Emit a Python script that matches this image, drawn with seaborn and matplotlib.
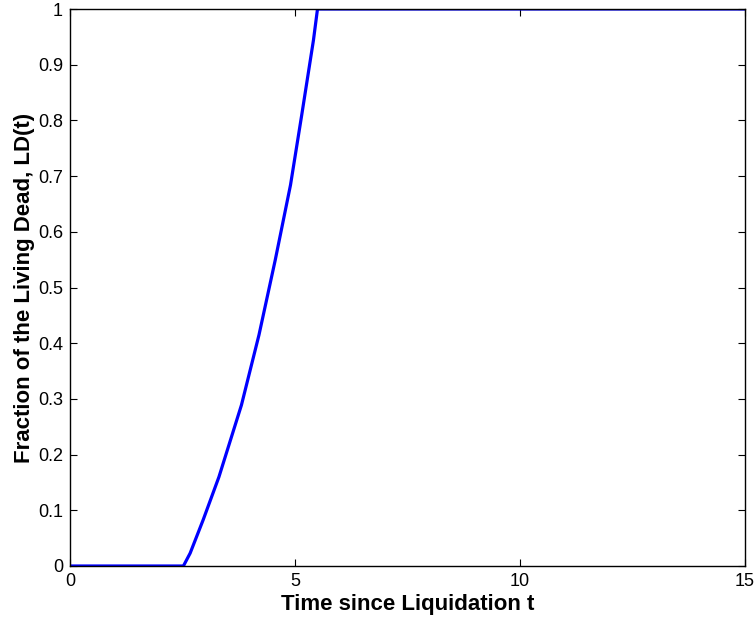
import numpy as np
import pandas as pd
import seaborn as sns
import matplotlib
matplotlib.use("Agg")
import matplotlib.pyplot as plt

# Values
time_t = [0.0, 2.52, 2.67, 2.96, 3.31, 3.81, 4.20, 4.56, 4.90, 5.15, 5.41, 5.50, 15.0]
living_dead = [0.0, 0.0, 0.023, 0.083, 0.160, 0.289, 0.415, 0.549, 0.684, 0.810,
               0.944, 1.0, 1.0]

x_ticks = [0, 5, 10, 15]
y_ticks = [0, 0.1, 0.2, 0.3, 0.4, 0.5, 0.6, 0.7, 0.8, 0.9, 1]
y_tick_labels = ["0", "0.1", "0.2", "0.3", "0.4", "0.5", "0.6", "0.7", "0.8", "0.9", "1"]

data = pd.DataFrame({"t": time_t, "LD": living_dead})

sns.set_style("ticks")
plt.rcParams["font.family"] = ["Liberation Sans", "DejaVu Sans"]
plt.rcParams["text.color"] = "black"
plt.rcParams["axes.labelcolor"] = "black"

fig = plt.figure(figsize=(7.56, 6.2), dpi=100)
ax = fig.add_axes([70 / 756, 1 - 566 / 620, 675 / 756, 557 / 620])

sns.lineplot(x="t", y="LD", data=data, ax=ax, color="#0000ff", linewidth=2.3)

ax.set_xlim(0, 15)
ax.set_ylim(0, 1)
ax.set_xticks(x_ticks)
ax.set_xticklabels([str(v) for v in x_ticks])
ax.set_yticks(y_ticks)
ax.set_yticklabels(y_tick_labels)
ax.tick_params(direction="in", top=True, right=True, length=5, width=0.8,
               labelsize=13, colors="black", labelcolor="black", pad=5)
for side in ax.spines.values():
    side.set_linewidth(1.0)
    side.set_color("black")

ax.set_xlabel("Time since Liquidation t", fontsize=16, fontweight="bold", labelpad=3)
ax.set_ylabel("Fraction of the Living Dead, LD(t)", fontsize=16, fontweight="bold", labelpad=2)

fig.savefig("out.png", dpi=100)
